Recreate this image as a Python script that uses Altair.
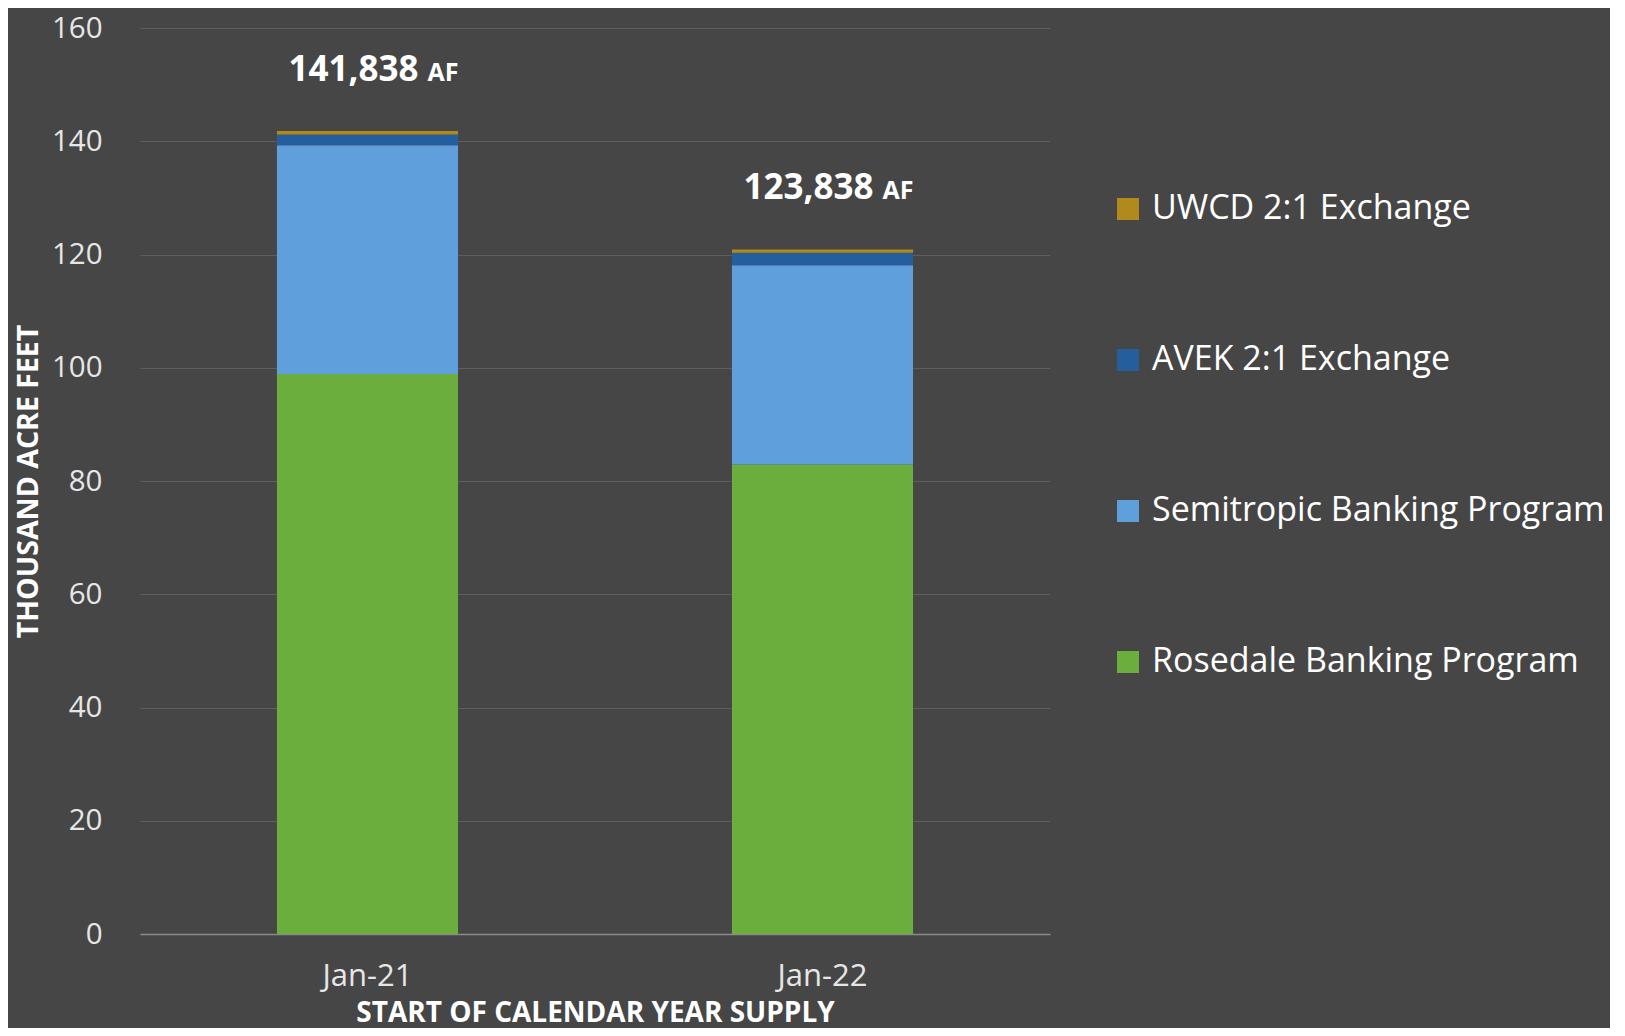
import altair as alt
import pandas as pd

periods = ["Jan-21", "Jan-22"]
series = ["UWCD 2:1 Exchange", "AVEK 2:1 Exchange",
          "Semitropic Banking Program", "Rosedale Banking Program"]
series_colors = ["#b08a1c", "#255e9c", "#5f9fdb", "#6cae3e"]
rosedale = [98.9, 82.9]
semitropic = [40.4, 35.2]
avek = [1.9, 2.2]
uwcd = [0.6, 0.6]
total_labels = ["141,838", "123,838"]
y_ticks = [0, 20, 40, 60, 80, 100, 120, 140, 160]

values = {
    "Rosedale Banking Program": rosedale,
    "Semitropic Banking Program": semitropic,
    "AVEK 2:1 Exchange": avek,
    "UWCD 2:1 Exchange": uwcd,
}
stack_order = {"Rosedale Banking Program": 0, "Semitropic Banking Program": 1,
               "AVEK 2:1 Exchange": 2, "UWCD 2:1 Exchange": 3}

rows = []
for s, vals in values.items():
    for p, v in zip(periods, vals):
        rows.append({"period": p, "series": s, "value": v, "ord": stack_order[s]})
df = pd.DataFrame(rows)

totals = pd.DataFrame({
    "period": periods,
    "total": [sum(values[s][i] for s in values) for i in range(len(periods))],
    "label": total_labels,
    "unit": ["AF", "AF"],
})

FONT = "Open Sans"
W, H = 910, 906

x_enc = alt.X("period:N", sort=periods,
              scale=alt.Scale(paddingInner=0.602, paddingOuter=0.301),
              axis=alt.Axis(title="START OF CALENDAR YEAR SUPPLY", labelAngle=0,
                            labelFontSize=31, labelColor="#e6e6e6", labelFont=FONT,
                            labelPadding=27, ticks=False, grid=False,
                            domainColor="#8a8a8a", domainWidth=1.5,
                            titleFont=FONT, titleFontSize=28, titleFontWeight="bold",
                            titleColor="#ffffff", titleY=79, titleBaseline="middle"))

bars = alt.Chart(df).mark_bar().encode(
    x=x_enc,
    y=alt.Y("value:Q", stack="zero",
            scale=alt.Scale(domain=[0, 160], nice=False),
            axis=alt.Axis(values=y_ticks, title="THOUSAND ACRE FEET",
                          labelFontSize=29.5, labelColor="#e6e6e6", labelFont=FONT,
                          labelPadding=38, ticks=False, domain=False,
                          gridColor="#5e5e5e", gridWidth=1,
                          titleFont=FONT, titleFontSize=28.5, titleFontWeight="bold",
                          titleColor="#ffffff", titleX=-112, titleY=H / 2,
                          titleAngle=-90, titleAlign="center",
                          titleBaseline="middle")),
    color=alt.Color("series:N",
                    scale=alt.Scale(domain=series, range=series_colors),
                    legend=alt.Legend(title=None, orient="none", legendX=971,
                                      legendY=164, symbolType="square",
                                      symbolSize=484, symbolStrokeWidth=0,
                                      labelFontSize=34, labelFont=FONT,
                                      labelColor="#ffffff", labelOffset=7,
                                      rowPadding=117, labelLimit=700)),
    order=alt.Order("ord:Q", sort="ascending"),
)

num_text = alt.Chart(totals).mark_text(
    align="right", baseline="middle", dx=51, dy=-61,
    font=FONT, fontSize=35, fontWeight="bold", color="#ffffff"
).encode(x=alt.X("period:N", sort=periods), y=alt.Y("total:Q"), text="label:N")

unit_text = alt.Chart(totals).mark_text(
    align="left", baseline="middle", dx=60, dy=-58,
    font=FONT, fontSize=25, fontWeight="bold", color="#ffffff"
).encode(x=alt.X("period:N", sort=periods), y=alt.Y("total:Q"), text="unit:N")

chart = alt.layer(bars, num_text, unit_text).properties(
    width=W, height=H,
    autosize=alt.AutoSizeParams(type="none"),
    padding={"left": 132, "top": 20, "right": 560, "bottom": 94},
    background="#464646",
).configure_view(stroke=None)

chart.save("out.html", embed_options={"renderer": "svg", "actions": False})
